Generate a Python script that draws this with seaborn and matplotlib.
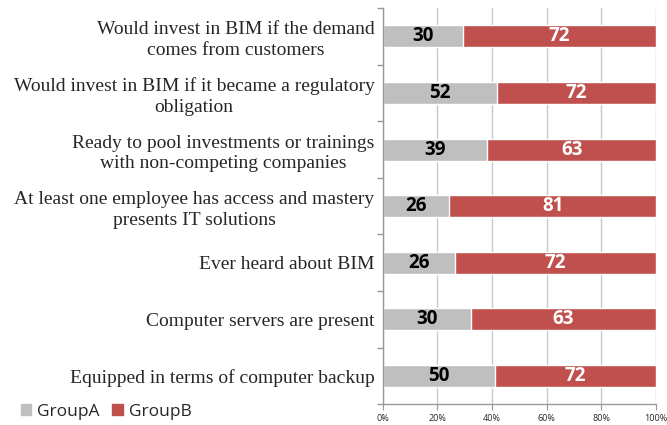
import pandas as pd
import matplotlib
matplotlib.use("Agg")
import matplotlib.pyplot as plt
import seaborn as sns
from matplotlib.patches import Patch

# data
labels = [
    "Would invest in BIM if the demand\ncomes from customers",
    "Would invest in BIM if it became a regulatory\nobligation",
    "Ready to pool investments or trainings\nwith non-competing companies",
    "At least one employee has access and mastery\npresents IT solutions",
    "Ever heard about BIM",
    "Computer servers are present",
    "Equipped in terms of computer backup",
]
group_a = [30, 52, 39, 26, 26, 30, 50]
group_b = [72, 72, 63, 81, 72, 63, 72]
x_ticks = [0, 20, 40, 60, 80, 100]

GRAY = "#BFBFBF"
RED = "#C0504D"

df = pd.DataFrame({"label": labels, "a": group_a, "b": group_b})
df["total"] = df.a + df.b
df["pct_a"] = df.a / df.total * 100
df["pct_ab"] = 100.0

sns.set_style("white")
fig = plt.figure(figsize=(6.67, 4.25), dpi=100)
ax = fig.add_axes([0.574, 0.049, 0.4095, 0.932])

sns.barplot(data=df, x="pct_ab", y="label", color=RED, width=0.39,
            saturation=1, ax=ax, zorder=2)
sns.barplot(data=df, x="pct_a", y="label", color=GRAY, width=0.39,
            saturation=1, ax=ax, zorder=2)

# value labels
for i, row in df.iterrows():
    ax.text(row.pct_a / 2, i, str(row.a), ha="center", va="center",
            fontsize=13.5, fontweight="bold", color="black",
            family="Open Sans", zorder=3)
    ax.text(row.pct_a + (100 - row.pct_a) / 2, i, str(row.b), ha="center",
            va="center", fontsize=13.5, fontweight="bold", color="white",
            family="Open Sans", zorder=3)

ax.set_xlim(0, 100)
ax.set_ylim(len(labels) - 0.5, -0.5)
ax.set_xticks(x_ticks)
ax.set_xticklabels([f"{t}%" for t in x_ticks], fontsize=6.5, family="Open Sans")
ax.xaxis.grid(True, color="#C8C8C8", linewidth=1, zorder=0)
ax.set_axisbelow(True)
ax.set_xlabel("")
ax.set_ylabel("")

ax.set_yticks(range(len(labels)))
ax.set_yticklabels(labels, fontsize=14, family="Liberation Serif",
                   multialignment="center", linespacing=1.3)
ax.set_yticks([i - 0.5 for i in range(len(labels) + 1)], minor=True)
ax.tick_params(axis="y", which="major", length=0, pad=6)
ax.tick_params(axis="y", which="minor", length=4, color="#999999", width=1,
               left=True)
ax.tick_params(axis="x", length=4, color="#999999", bottom=True, pad=3)

for s in ["top", "right"]:
    ax.spines[s].set_visible(False)
for s in ["left", "bottom"]:
    ax.spines[s].set_color("#999999")
    ax.spines[s].set_linewidth(1)

handles = [Patch(color=GRAY, label="GroupA"), Patch(color=RED, label="GroupB")]
fig.legend(handles=handles, loc="lower left", bbox_to_anchor=(0.008, -0.025),
           ncol=2, frameon=False, prop={"family": "Open Sans", "size": 12.5},
           handlelength=0.6, handleheight=0.6, handletextpad=0.35,
           columnspacing=0.7)

plt.savefig("out.png", dpi=100)
